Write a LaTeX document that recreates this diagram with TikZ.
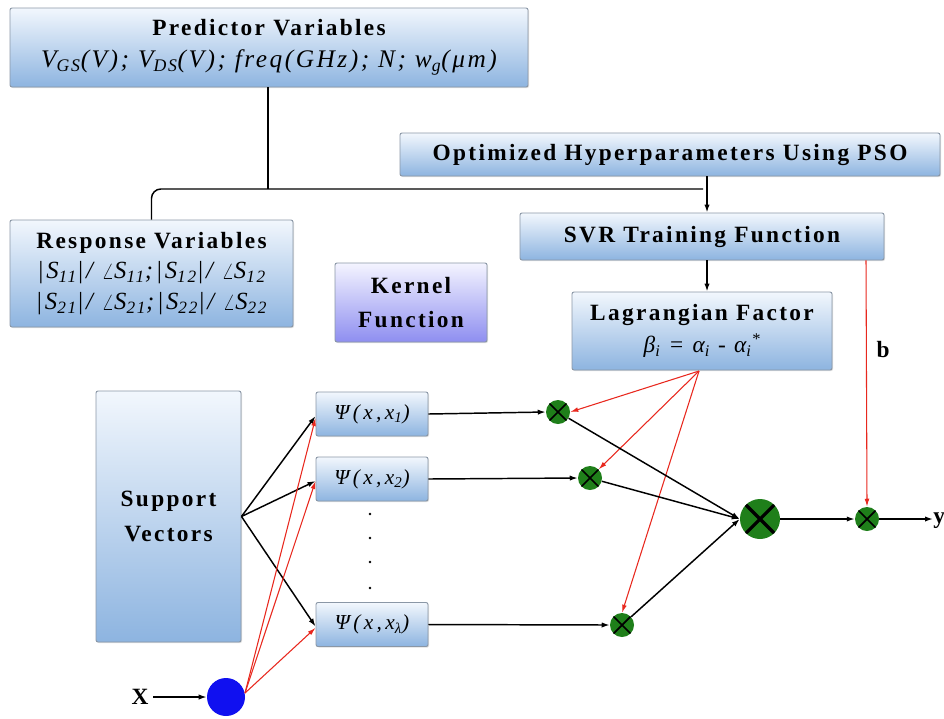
\documentclass[tikz,border=0pt]{standalone}
\usepackage{fontspec}
\setmainfont{Liberation Serif}
\newfontfamily\wide[LetterSpace=10]{Liberation Serif}
\newfontfamily\wider[LetterSpace=16]{Liberation Serif}
\usetikzlibrary{arrows.meta,shadows}

\definecolor{boxtop}{HTML}{F2F7FD}
\definecolor{boxbot}{HTML}{8DB4E0}
\definecolor{boxedge}{HTML}{8A97A6}
\definecolor{kertop}{HTML}{F4F4FF}
\definecolor{kerbot}{HTML}{8E8EF0}
\definecolor{nodegreen}{HTML}{1F7F1A}
\definecolor{inblue}{HTML}{1010F0}
\definecolor{wire}{HTML}{E8281E}

\tikzset{
  box/.style={draw=boxedge, line width=0.7pt, rounded corners=1.5pt,
    top color=boxtop, bottom color=boxbot, align=center, inner sep=0pt,
    drop shadow={shadow xshift=0.8pt, shadow yshift=-0.8pt, opacity=0.25}},
  kbox/.style={box, top color=kertop, bottom color=kerbot},
  ttl/.style={font=\wide\bfseries\fontsize{17.5}{26}\selectfont},
  psibox/.style={box, minimum width=84pt, minimum height=33pt,
    font=\wider\itshape\fontsize{16}{20}\selectfont},
  mult/.style={circle, fill=nodegreen, inner sep=0pt, minimum size=18pt,
    path picture={\draw[line width=1.3pt]
      ([shift={(-3pt,3pt)}]path picture bounding box.north west) -- ([shift={(3pt,-3pt)}]path picture bounding box.south east)
      ([shift={(3pt,3pt)}]path picture bounding box.north east) -- ([shift={(-3pt,-3pt)}]path picture bounding box.south west);}},
  bigmult/.style={mult, minimum size=30pt,
    path picture={\draw[line width=2.4pt]
      ([shift={(-5pt,5pt)}]path picture bounding box.north west) -- ([shift={(5pt,-5pt)}]path picture bounding box.south east)
      ([shift={(5pt,5pt)}]path picture bounding box.north east) -- ([shift={(-5pt,-5pt)}]path picture bounding box.south west);}},
  arr/.style={line width=1.1pt, -{Latex[length=6pt,width=4pt]}},
  rarr/.style={draw=wire, line width=0.8pt, -{Latex[length=6pt,width=3.6pt]}},
  link/.style={line width=1.1pt},
}

\begin{document}
\begin{tikzpicture}[x=0.75pt, y=-0.75pt]
\useasboundingbox (0,0) rectangle (944,718);

% upper boxes
\node[box, ttl, minimum width=388.5pt, minimum height=59.25pt] (pred) at (269,47.5)
  {Predictor Variables\\[-2pt]
   {\mdseries\itshape\fontsize{19}{22}\selectfont V\textsubscript{GS}(V); V\textsubscript{DS}(V); freq(GHz); N; w\textsubscript{g}(μm)}};
\node[box, ttl, minimum width=405pt, minimum height=32.25pt] (opt) at (670,154.5)
  {Optimized Hyperparameters Using PSO};
\node[box, ttl, minimum width=212.25pt, minimum height=80.25pt] (resp) at (151.5,273.5)
  {Response Variables\\[-3pt]
   {\mdseries\itshape\fontsize{18.5}{22}\selectfont |S\textsubscript{11}|/ $\angle$S\textsubscript{11};|S\textsubscript{12}|/ $\angle$S\textsubscript{12}}\\[-3pt]
   {\mdseries\itshape\fontsize{18.5}{22}\selectfont |S\textsubscript{21}|/ $\angle$S\textsubscript{21};|S\textsubscript{22}|/ $\angle$S\textsubscript{22}}};
\node[box, ttl, minimum width=273pt, minimum height=35.25pt] (svr) at (702,236.5)
  {SVR Training Function};
\node[kbox, ttl, minimum width=114pt, minimum height=59.25pt] (kern) at (411,302.5)
  {Kernel\\Function};
\node[box, ttl, minimum width=195pt, minimum height=58.5pt] (lag) at (702,331)
  {Lagrangian Factor\\[-2pt]
   {\mdseries\itshape β\textsubscript{i} = α\textsubscript{i} - α\textsubscript{i}\textsuperscript{*}}};

% network part
\node[box, ttl, minimum width=108.75pt, minimum height=188.25pt] (sv) at (168.5,516.5)
  {Support\\Vectors};
\node[psibox] (psi1) at (372,414) {Ψ(x,x\textsubscript{1})};
\node[psibox] (psi2) at (372,479) {Ψ(x,x\textsubscript{2})};
\node[psibox] (psi3) at (372,624.5) {Ψ(x,x\textsubscript{λ})};

\foreach \yy in {514,538,562,588}
  \fill (370,\yy) circle (1.1pt);

\node[mult] (m1) at (558,412) {};
\node[mult] (m2) at (590,478) {};
\node[mult] (m3) at (622,625) {};
\node[bigmult] (sum) at (760,519) {};
\node[mult] (out) at (867,519) {};
\node[circle, fill=inblue, inner sep=0pt, minimum size=28.5pt] (xin) at (226,697) {};

\node[font=\bfseries\fontsize{17.5}{20}\selectfont] (xlab) at (140,697) {X};
\node[font=\bfseries\fontsize{17.5}{20}\selectfont, anchor=west, inner sep=0pt] (ylab) at (933,521) {y};
\node[font=\bfseries\fontsize{17.5}{20}\selectfont] (blab) at (883,350) {b};

% helper points
\coordinate (vx) at (707,0);
\coordinate (bx) at (866,0);
\coordinate (jx) at (268,0);
\coordinate (hend) at (703,189);
\coordinate (lagout) at (699,371);
\coordinate (xout) at (245,693);

% feed lines at the top
\draw[link] (pred.south -| jx) -- (hend -| jx);
\draw[link, rounded corners=7pt] (resp.north) |- (hend);
\draw[arr] (opt.south -| vx) -- (svr.north -| vx);
\draw[arr] (svr.south -| vx) -- (lag.north -| vx);
\draw[rarr] (svr.south -| bx) -- (out.north);

% support vectors into kernels
\draw[arr] (sv.east) -- ([yshift=-1.5pt]psi1.west);
\draw[arr] (sv.east) -- ([yshift=-1.5pt]psi2.west);
\draw[arr] (sv.east) -- ([yshift=-1.5pt]psi3.west);

% input into kernels
\draw[arr] (xlab.east) -- (xin.west);
\draw[rarr] (xout) -- ([yshift=-3pt]psi1.west);
\draw[rarr] (xout) -- ([yshift=-1.5pt]psi2.west);
\draw[rarr] (xout) -- ([yshift=-2.5pt]psi3.west);

% kernels into multipliers
\draw[arr] (psi1.east) -- (m1.west);
\draw[arr] (psi2.east) -- (m2.west);
\draw[arr] (psi3.east) -- (m3.west);

% Lagrangian weights
\draw[rarr] (lagout) -- (m1.east);
\draw[rarr] (lagout) -- (m2.north east);
\draw[rarr] (lagout) -- (m3.north);

% summation and output
\draw[arr] (m1) -- (sum.west);
\draw[arr] (m2) -- (sum.west);
\draw[arr] (m3) -- (sum.west);
\draw[arr] (sum.east) -- (out.west);
\draw[arr] (out.east) -- (out.east -| ylab.west);
\end{tikzpicture}
\end{document}
